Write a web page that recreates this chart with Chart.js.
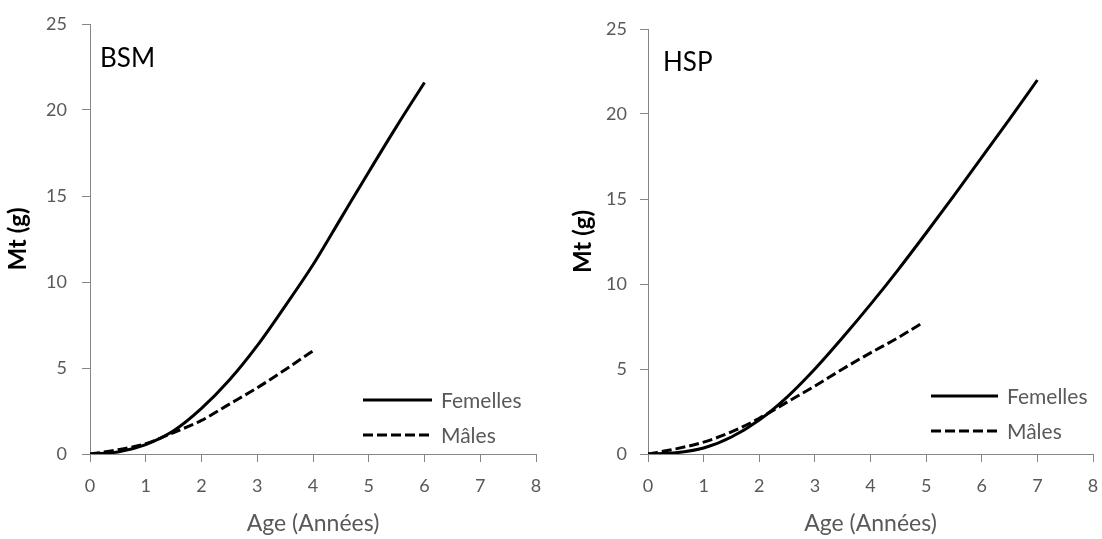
<!DOCTYPE html>
<html>
<head>
<meta charset="utf-8">
<script src="https://cdn.jsdelivr.net/npm/chart.js@4.4.0/dist/chart.umd.min.js"></script>
<style>
  body { margin: 0; background: #fff; }
  #wrap { position: relative; width: 1102px; height: 539px; }
  canvas { position: absolute; top: 0; }
</style>
</head>
<body>
<div id="wrap">
  <canvas id="bsm" width="551" height="539" style="left:0"></canvas>
  <canvas id="hsp" width="551" height="539" style="left:551px"></canvas>
</div>
<script>
// BSM panel
const bsmAgeF = [0, 0.5, 1, 1.5, 2, 2.5, 3, 3.5, 4, 4.5, 5, 5.5, 6];
const bsmMassF = [0, 0.12, 0.55, 1.35, 2.65, 4.3, 6.3, 8.6, 11.0, 13.7, 16.4, 19.05, 21.6];
const bsmAgeM = [0, 0.5, 1, 1.5, 2, 2.5, 3, 3.5, 4];
const bsmMassM = [0, 0.25, 0.6, 1.25, 1.95, 2.9, 3.85, 4.9, 6.0];

// HSP panel
const hspAgeF = [0, 0.5, 1, 1.5, 2, 2.5, 3, 3.5, 4, 4.5, 5, 5.5, 6, 6.5, 7];
const hspMassF = [0, 0.07, 0.35, 1.0, 2.0, 3.35, 5.0, 6.85, 8.8, 10.85, 13.0, 15.2, 17.45, 19.7, 22.0];
const hspAgeM = [0, 0.5, 1, 1.5, 2, 2.5, 3, 3.5, 4, 4.5, 4.95];
const hspMassM = [0, 0.3, 0.7, 1.3, 2.1, 3.05, 4.0, 5.0, 5.95, 6.85, 7.75];

const seriesNames = ["Femelles", "Mâles"];
const xTitle = "Age (Années)";
const yTitle = "Mt (g)";

const FONT = "Lato";
const AXIS = "#868686";
const LABEL = "#595959";

const toPoints = (xs, ys) => xs.map((x, i) => ({ x: x, y: ys[i] }));

// draws the panel name and the legend inside the plot area
const insideText = {
  id: "insideText",
  afterDraw(chart, args, opts) {
    const ctx = chart.ctx;
    const area = chart.chartArea;
    ctx.save();
    ctx.textAlign = "left";
    ctx.textBaseline = "middle";
    ctx.font = "26px " + FONT;
    ctx.fillStyle = "#000";
    ctx.fillText(opts.label, area.left + opts.labelX, area.top + opts.labelY);

    chart.data.datasets.forEach((ds, i) => {
      const x = area.left + opts.legendX;
      const y = area.bottom - opts.legendY + i * opts.rowGap;
      ctx.strokeStyle = ds.borderColor;
      ctx.lineWidth = ds.borderWidth;
      ctx.setLineDash(ds.borderDash || []);
      ctx.beginPath();
      ctx.moveTo(x, y);
      ctx.lineTo(x + opts.lineLen, y);
      ctx.stroke();
      ctx.setLineDash([]);
      ctx.font = "21px " + FONT;
      ctx.fillStyle = LABEL;
      ctx.fillText(ds.label, x + opts.lineLen + 9, y + 1);
    });
    ctx.restore();
  }
};

function makeChart(id, fem, mal, p) {
  return new Chart(document.getElementById(id), {
    type: "line",
    data: {
      datasets: [
        {
          label: seriesNames[0],
          data: fem,
          borderColor: "#000",
          borderWidth: 3,
          pointRadius: 0,
          cubicInterpolationMode: "monotone"
        },
        {
          label: seriesNames[1],
          data: mal,
          borderColor: "#000",
          borderWidth: 3,
          borderDash: [10, 4],
          pointRadius: 0,
          cubicInterpolationMode: "monotone"
        }
      ]
    },
    plugins: [insideText],
    options: {
      responsive: false,
      animation: false,
      devicePixelRatio: 1,
      layout: { padding: { left: 0, right: p.right, top: p.top, bottom: 0 } },
      plugins: {
        legend: { display: false },
        tooltip: { enabled: false },
        insideText: p.inside
      },
      scales: {
        x: {
          type: "linear",
          min: 0,
          max: 8,
          ticks: { stepSize: 1, color: LABEL, font: { family: FONT, size: 18 }, padding: 13 },
          grid: { drawOnChartArea: false, tickLength: 8, color: AXIS },
          border: { color: AXIS, width: 1 },
          title: { display: true, text: xTitle, color: LABEL, font: { family: FONT, size: 23 }, padding: { top: 0, bottom: 2 } },
          afterFit: (s) => { s.height = 85; s.paddingLeft = 0; s.paddingRight = 0; }
        },
        y: {
          min: 0,
          max: 25,
          ticks: { stepSize: 5, color: LABEL, font: { family: FONT, size: 18 }, padding: p.tickPad },
          grid: { drawOnChartArea: false, tickLength: 8, color: AXIS },
          border: { color: AXIS, width: 1 },
          title: { display: true, text: yTitle, color: "#000", font: { family: FONT, size: 24, weight: "bold" }, padding: { top: p.titlePad, bottom: 0 } },
          afterFit: (s) => { s.width = p.yWidth; s.paddingTop = 0; s.paddingBottom = 0; }
        }
      }
    }
  });
}

makeChart("bsm", toPoints(bsmAgeF, bsmMassF), toPoints(bsmAgeM, bsmMassM), {
  right: 15, top: 24, yWidth: 90, tickPad: 15, titlePad: 4,
  inside: { label: "BSM", labelX: 10, labelY: 35, legendX: 273, legendY: 54, rowGap: 35, lineLen: 69 }
});

makeChart("hsp", toPoints(hspAgeF, hspMassF), toPoints(hspAgeM, hspMassM), {
  right: 9, top: 29, yWidth: 97, tickPad: 13, titlePad: 18,
  inside: { label: "HSP", labelX: 15, labelY: 34, legendX: 283, legendY: 58, rowGap: 35, lineLen: 67 }
});
</script>
</body>
</html>
